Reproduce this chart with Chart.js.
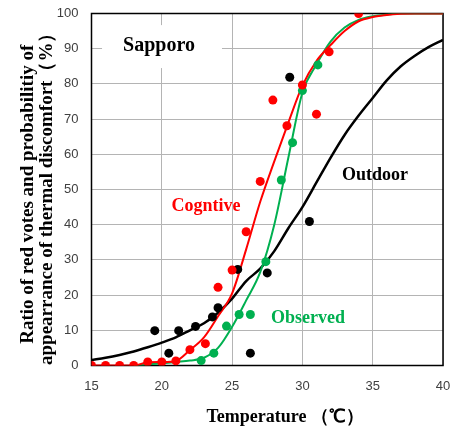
<!DOCTYPE html>
<html>
<head>
<meta charset="utf-8">
<script src="https://cdn.jsdelivr.net/npm/chart.js@4/dist/chart.umd.min.js"></script>
<style>
  body { margin: 0; background: #fff; }
  #wrap { width: 450px; height: 429px; }
</style>
</head>
<body>
<div id="wrap"><canvas id="myChart" width="450" height="429"></canvas></div>
<script>
// 1 DATA
const temps = [15,16,17,18,19,20,21,22,23,24,25,26,27,28,29,30,31,32,33,34,35,36,37,38,39,40];
const outdoorCurve = [1.6,2.2,3,4,5.2,6.5,8,10,12,15,19,24,27.5,32.5,39,45,52,59,65.5,71,76,81,85,88,90.5,92.5];
const cognitiveCurve = [0,0,0,0,0.9,1,1.3,4.4,8,14,20.5,33,46.5,58,69,79.5,86.5,91,95,97.8,99,99.6,99.9,100,100,100];
const observedCurve = [null,null,null,0,0.3,0.6,1,1.4,2.2,5,11,18.5,26.5,40,59,77.5,85.5,92,96,98.2,99.2,99.7,100,100,100,100];

const redX = [15,16,17,18,19,20,21,22,23.1,24,25,26,27,27.9,28.9,30,31,31.9,34];
const redY = [0,0,0,0,1,1,1.3,4.5,6.2,22.2,27.1,38,52.3,75.4,68.1,79.7,71.4,89.1,100];
const blackX = [19.5,20.5,21.2,22.4,23.6,24,25.4,26.3,27.5,29.1,30.5];
const blackY = [9.9,3.5,9.9,11.1,13.8,16.4,27.3,3.5,26.3,81.9,40.9];
const greenX = [22.8,23.7,24.6,25.5,26.3,27.4,28.5,29.3,30,31.1];
const greenY = [1.4,3.5,11.2,14.5,14.5,29.5,52.7,63.3,78.1,85.4];

const xTicks = [15,20,25,30,35,40];
const yTicks = [0,10,20,30,40,50,60,70,80,90,100];

const RED = '#ff0000';
const GREEN = '#00b050';
const BLACK = '#000000';

const pairs = (xs, ys) => xs.map((x, i) => ({x: x, y: ys[i]}));

// 2 LABELS DRAWN ON THE PLOT
const labelPlugin = {
    id: 'labels',
    beforeDatasetsDraw(chart) {
        const {ctx, chartArea: a, scales: {x, y}} = chart;
        ctx.save();
        // white box behind Sapporo
        const bx0 = x.getPixelForValue(15.75), bx1 = x.getPixelForValue(24.28);
        const by0 = y.getPixelForValue(96.7), by1 = y.getPixelForValue(84.5);
        ctx.fillStyle = '#fff';
        ctx.fillRect(bx0, by0, bx1 - bx0, by1 - by0);
        // frame
        ctx.strokeStyle = '#000';
        ctx.lineWidth = 1.5;
        ctx.strokeRect(a.left, a.top, a.right - a.left, a.bottom - a.top);
        ctx.restore();
    },
    afterDatasetsDraw(chart) {
        const {ctx, scales: {x, y}} = chart;
        const put = (txt, vx, vy, color, size) => {
            ctx.font = 'bold ' + size + 'px "Liberation Serif", "Times New Roman", serif';
            ctx.fillStyle = color;
            ctx.textAlign = 'center';
            ctx.textBaseline = 'middle';
            ctx.fillText(txt, x.getPixelForValue(vx), y.getPixelForValue(vy));
        };
        ctx.save();
        put('Sapporo', 19.8, 90.8, BLACK, 20);
        put('Outdoor', 35.16, 54.1, BLACK, 18);
        put('Cogntive', 23.14, 45.3, RED, 18);
        put('Observed', 30.4, 13.5, GREEN, 18);
        ctx.restore();
    }
};

// the scales should not push the plot area in; layout padding sets it
const noPad = s => { s.paddingTop = 0; s.paddingBottom = 0; s.paddingLeft = 0; s.paddingRight = 0; };

// 3 CHART
const ctx = document.querySelector('#myChart').getContext('2d');
const tickFont = {family: '"Liberation Sans", Arial, sans-serif', size: 13};
const serif = '"Liberation Serif", "Times New Roman", serif';

const myChart = new Chart(ctx, {
    type: 'scatter',
    data: {
        datasets: [
            {label: 'redPts', data: pairs(redX, redY), backgroundColor: RED, pointRadius: 4.5, borderWidth: 0, showLine: false},
            {label: 'greenPts', data: pairs(greenX, greenY), backgroundColor: GREEN, pointRadius: 4.5, borderWidth: 0, showLine: false},
            {label: 'blackPts', data: pairs(blackX, blackY), backgroundColor: BLACK, pointRadius: 4.5, borderWidth: 0, showLine: false},
            {label: 'Cogntive', data: pairs(temps, cognitiveCurve), showLine: true, borderColor: RED, borderWidth: 2, pointRadius: 0, cubicInterpolationMode: 'monotone', spanGaps: false},
            {label: 'Observed', data: pairs(temps, observedCurve), showLine: true, borderColor: GREEN, borderWidth: 2, pointRadius: 0, cubicInterpolationMode: 'monotone', spanGaps: false},
            {label: 'Outdoor', data: pairs(temps, outdoorCurve), showLine: true, borderColor: BLACK, borderWidth: 2.5, pointRadius: 0, cubicInterpolationMode: 'monotone'}
        ]
    },
    options: {
        responsive: false,
        animation: false,
        layout: {padding: {top: 13.5, right: 7, left: 0, bottom: 0}},
        plugins: {legend: {display: false}, tooltip: {enabled: false}},
        scales: {
            x: {
                type: 'linear', min: 15, max: 40,
                afterBuildTicks: s => { s.ticks = xTicks.map(v => ({value: v})); },
                afterFit: s => { s.height = 63.5; noPad(s); },
                grid: {color: '#b4b4b4', lineWidth: 1, drawTicks: false},
                border: {display: false},
                ticks: {font: tickFont, color: '#404040', padding: 13, maxRotation: 0},
                title: {
                    display: true, text: '\u2002\u2002\u2002\u2002Temperature （℃）',
                    font: {family: serif, size: 18, weight: 'bold', lineHeight: 1.1},
                    color: '#000', padding: {top: 0, bottom: 2}
                }
            },
            y: {
                min: 0, max: 100,
                afterBuildTicks: s => { s.ticks = yTicks.map(v => ({value: v})); },
                afterFit: s => { s.width = 91.5; noPad(s); },
                grid: {color: '#b4b4b4', lineWidth: 1, drawTicks: false},
                border: {display: false},
                ticks: {font: tickFont, color: '#404040', padding: 13},
                title: {
                    display: true,
                    text: ['Ratio of red votes and probabilitiy of\u2002', 'appearrance of thermal discomfort（%）\u2002'],
                    font: {family: serif, size: 19, weight: 'bold', lineHeight: 1.0},
                    color: '#000', padding: {top: 18.5, bottom: 0}
                }
            }
        }
    },
    plugins: [labelPlugin]
});
</script>
</body>
</html>
